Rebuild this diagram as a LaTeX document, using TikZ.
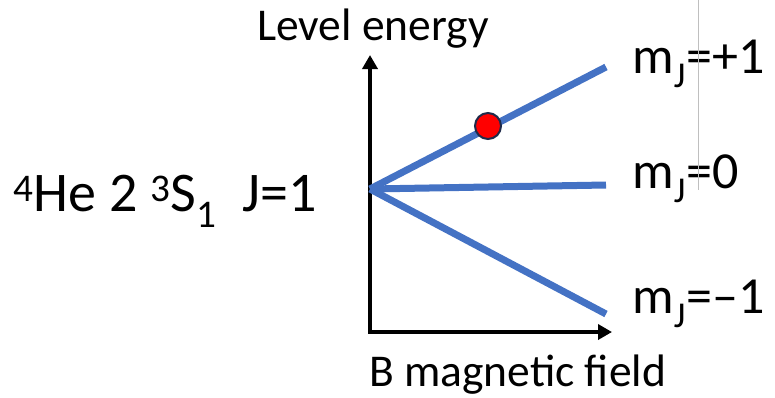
\documentclass[tikz,border=0pt]{standalone}
\usepackage{fontspec}
\setmainfont{Carlito}
\usetikzlibrary{arrows.meta}
\definecolor{levelblue}{HTML}{4472C4}
\definecolor{dotedge}{HTML}{1F2A4A}
\newcommand{\mJ}[1]{m\textsubscript{J}\kern1pt=#1}
\tikzset{
  axis/.style={line width=4pt,-{Triangle[length=14pt,width=15pt]}},
  level/.style={line width=7pt,levelblue},
  lbl/.style={font=\fontsize{45.5}{50}\selectfont,inner sep=0pt},
  mlbl/.style={lbl,font=\fontsize{52}{56}\selectfont,anchor=base west}
}
\begin{document}
\begin{tikzpicture}[x=1pt,y=-1pt]
\useasboundingbox (0,0) rectangle (775,397);
% axes
\coordinate (corner) at (370,332);
\coordinate (ytip) at (370,55);
\coordinate (xtip) at (612,332);
\draw[axis] ([xshift=0pt]corner) -- (ytip);
\draw[axis] ([xshift=-2pt]corner) -- (xtip);
\node[lbl,anchor=base] (ylabel) at (373,40) {Level energy};
\node[lbl,anchor=base west] (xlabel) at (369,386) {B magnetic field};
% Zeeman levels
\coordinate (zero) at (370,189);
\coordinate (plus) at (606,67);
\coordinate (null) at (606,185);
\coordinate (minus) at (606,314);
\draw[level] (zero) -- (plus);
\draw[level] (zero) -- (null);
\draw[level] (zero) -- (minus);
\node[circle,fill=red,draw=dotedge,line width=2pt,minimum size=26pt,inner sep=0pt] (atom) at (488,126) {};
\node[mlbl] (mplus) at (632,73) {\mJ{+1}};
\node[mlbl] (mnull) at (632,188) {\mJ{0}};
\node[mlbl] (mminus) at (632,313) {\mJ{–1}};
\node[lbl,font=\fontsize{56}{60}\selectfont,anchor=base west] (state) at (13,211)
  {\textsuperscript{4}He 2 \textsuperscript{3}S\textsubscript{1}\hskip 26pt J=1};
% faint guide
\draw[black!25,line width=0.6pt] (698,0) -- (698,190);
\end{tikzpicture}
\end{document}
